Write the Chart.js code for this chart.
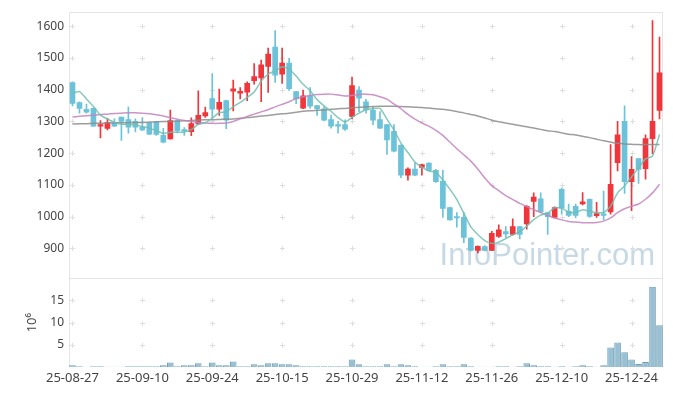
<!DOCTYPE html>
<html>
<head>
<meta charset="utf-8">
<script src="https://cdn.jsdelivr.net/npm/chart.js@4.4.1/dist/chart.umd.min.js"></script>
<style>
  html, body { margin: 0; padding: 0; background: #fff; }
  #wrap { width: 673px; height: 396px; }
</style>
</head>
<body>
<div id="wrap"><canvas id="stockChart"></canvas></div>
<script>
// 거래일 (yy-mm-dd)
const dates = [
  '25-08-27','25-08-28','25-08-29','25-09-01','25-09-02','25-09-03','25-09-04','25-09-05','25-09-08','25-09-09',
  '25-09-10','25-09-11','25-09-12','25-09-15','25-09-16','25-09-17','25-09-18','25-09-19','25-09-22','25-09-23',
  '25-09-24','25-09-25','25-09-26','25-09-29','25-09-30','25-10-01','25-10-02','25-10-10','25-10-13','25-10-14',
  '25-10-15','25-10-16','25-10-17','25-10-20','25-10-21','25-10-22','25-10-23','25-10-24','25-10-27','25-10-28',
  '25-10-29','25-10-30','25-10-31','25-11-03','25-11-04','25-11-05','25-11-06','25-11-07','25-11-10','25-11-11',
  '25-11-12','25-11-13','25-11-14','25-11-17','25-11-18','25-11-19','25-11-20','25-11-21','25-11-24','25-11-25',
  '25-11-26','25-11-27','25-11-28','25-12-01','25-12-02','25-12-03','25-12-04','25-12-05','25-12-08','25-12-09',
  '25-12-10','25-12-11','25-12-12','25-12-15','25-12-16','25-12-17','25-12-18','25-12-19','25-12-22','25-12-23',
  '25-12-24','25-12-26','25-12-29','25-12-30','26-01-02'
];

// 시가 / 고가 / 저가 / 종가
const opens = [
  1422,1359,1338,1341,1285,1278,1297,1314,1306,1300, 1283,1296,1299,1256,1245,1303,1274,1268,1292,1317,
  1372,1339,1366,1395,1389,1392,1428,1437,1473,1534, 1449,1484,1394,1342,1381,1350,1340,1306,1288,1290,
  1316,1399,1362,1335,1306,1290,1269,1225,1131,1150, 1155,1169,1146,1112,1029,998,998,933,894,906,
  894,938,953,944,969,977,1048,1056,1013,998, 1086,1017,1033,1040,1055,1003,1006,1015,1170,1300,
  1110,1183,1151,1246,1335
];
const highs = [
  1425,1362,1355,1342,1303,1310,1308,1314,1345,1308, 1312,1297,1300,1278,1336,1304,1281,1311,1396,1345,
  1451,1402,1367,1430,1407,1425,1482,1493,1531,1586, 1531,1499,1395,1399,1407,1351,1346,1320,1300,1305,
  1440,1410,1370,1347,1331,1291,1290,1226,1154,1170, 1166,1170,1149,1146,1030,1013,1013,934,908,909,
  954,974,969,993,970,1035,1075,1075,1014,1031, 1090,1040,1040,1076,1056,1045,1081,1227,1300,1349,
  1189,1184,1258,1618,1566
];
const lows = [
  1349,1326,1326,1284,1248,1273,1284,1240,1263,1267, 1271,1258,1256,1232,1244,1264,1256,1255,1290,1313,
  1310,1319,1277,1333,1371,1365,1417,1362,1391,1423, 1420,1398,1356,1340,1342,1319,1302,1279,1263,1272,
  1308,1331,1326,1290,1277,1196,1204,1123,1115,1129, 1131,1144,1108,998,989,967,918,892,886,892,
  893,935,935,942,930,961,1000,1013,944,996, 1008,1000,996,1037,998,998,990,1008,1144,1073,
  1019,1105,1118,1198,1308
];
const closes = [
  1357,1341,1329,1285,1290,1297,1285,1300,1282,1282, 1273,1260,1259,1235,1303,1271,1269,1293,1319,1328,
  1339,1360,1304,1403,1395,1420,1441,1478,1512,1446, 1484,1403,1371,1381,1348,1340,1304,1285,1285,1276,
  1413,1373,1336,1304,1279,1242,1206,1131,1150,1131, 1164,1146,1110,1026,990,996,935,894,907,894,
  948,959,946,969,944,1033,1062,1016,1000,1029, 1027,1004,1004,1047,1001,1010,1004,1102,1258,1110,
  1149,1149,1246,1300,1453
];

// 이동평균선
const ma5 = [
  1388,1394,1371,1347,1320,1308,1297,1291,1291,1289, 1284,1279,1271,1262,1266,1266,1267,1274,1291,1296,
  1310,1328,1330,1347,1360,1376,1393,1427,1449,1459, 1472,1465,1443,1417,1397,1369,1349,1332,1312,1298,
  1313,1326,1337,1340,1341,1307,1273,1232,1202,1172, 1156,1144,1140,1115,1087,1054,1011,968,944,925,
  916,920,931,943,953,970,991,1005,1011,1028, 1027,1015,1013,1022,1017,1013,1013,1033,1075,1097,
  1125,1154,1182,1191,1259
];
const ma20 = [
  1314,1316,1318,1320,1322,1323,1325,1326,1327,1327, 1326,1324,1321,1317,1312,1307,1303,1300,1297,1295,
  1294,1294,1295,1300,1308,1316,1323,1330,1337,1346, 1354,1362,1372,1378,1382,1385,1386,1386,1383,1380,
  1382,1385,1386,1384,1378,1370,1355,1340,1322,1307, 1295,1285,1272,1256,1235,1214,1195,1175,1150,1122,
  1098,1082,1066,1054,1042,1032,1022,1013,1004,996, 990,985,983,981,981,982,986,996,1013,1025,
  1033,1040,1055,1075,1102
];
const ma120 = [
  1292,1293,1293,1294,1294,1295,1295,1296,1296,1297, 1297,1298,1299,1300,1300,1301,1302,1303,1304,1305,
  1305,1306,1307,1308,1310,1312,1314,1317,1319,1322, 1324,1326,1329,1332,1334,1335,1336,1338,1340,1341,
  1343,1345,1346,1347,1348,1348,1348,1347,1346,1345, 1344,1342,1340,1338,1335,1331,1327,1322,1317,1311,
  1304,1299,1295,1291,1287,1283,1279,1275,1271,1268, 1264,1260,1257,1253,1249,1244,1239,1235,1231,1229,
  1228,1227,1227,1227,1227
];

// 거래량 (백만 주)
const volumes = [
  0.37,0.15,0.03,0.15,0.15,0.03,0.03,0.03,0.15,0.15, 0.15,0.15,0.15,0.37,1.04,0.15,0.37,0.37,0.82,0.15,
  1.04,0.37,0.37,1.26,0.15,0.15,0.6,0.37,0.82,0.82, 0.6,0.6,0.37,0.15,0.15,0.15,0.15,0.15,0.15,0.15,
  1.71,0.6,0.15,0.15,0.15,0.6,0.15,0.6,0.37,0.15, 0.03,0.03,0.15,0.6,0.15,0.15,0.6,0.15,0.03,0.03,
  0.03,0.15,0.15,0.03,0.15,0.82,0.37,0.15,0.15,0.03, 0.15,0.03,0.15,0.37,0.15,0.03,0.37,4.39,5.5,3.35,
  1.71,0.67,1.12,18.1,9.4
];

const priceTicks = [900, 1000, 1100, 1200, 1300, 1400, 1500, 1600];
const volumeTicks = [5, 10, 15];

const UP = '#f0363b';
const DOWN = '#6cc2d9';
const candleColors = closes.map((c, i) => c >= opens[i] ? UP : DOWN);

// 배경 장식: 테두리, 격자 십자표시, 워터마크
const decorPlugin = {
  id: 'decor',
  beforeDatasetsDraw(chart) {
    const { ctx, chartArea: a, scales } = chart;
    const x = scales.x, y = scales.y, yv = scales.yv;
    ctx.save();

    ctx.font = '31px "Liberation Sans", Arial, sans-serif';
    ctx.fillStyle = 'rgba(160,192,210,0.6)';
    ctx.textAlign = 'right';
    ctx.textBaseline = 'alphabetic';
    ctx.fillText('InfoPointer.com', a.right - 8, y.bottom - 13);

    ctx.strokeStyle = '#dedede';
    ctx.lineWidth = 1;
    const xs = [];
    dates.forEach((d, i) => { if (i % 10 === 0) xs.push(Math.round(x.getPixelForValue(i)) + 0.5); });
    const ys = [];
    y.ticks.forEach(t => ys.push(Math.round(y.getPixelForValue(t.value)) + 0.5));
    yv.ticks.forEach(t => ys.push(Math.round(yv.getPixelForValue(t.value)) + 0.5));
    ctx.beginPath();
    xs.forEach(px => ys.forEach(py => {
      ctx.moveTo(px - 2.5, py); ctx.lineTo(px + 2.5, py);
      ctx.moveTo(px, py - 2.5); ctx.lineTo(px, py + 2.5);
    }));
    ctx.stroke();

    ctx.strokeStyle = '#e4e4e4';
    ctx.beginPath();
    const L = Math.round(a.left) + 0.5, R = Math.round(a.right) - 0.5;
    const T = Math.round(a.top) + 0.5, S = Math.round(y.bottom) + 0.5;
    ctx.moveTo(L, a.bottom); ctx.lineTo(L, T); ctx.lineTo(R, T); ctx.lineTo(R, a.bottom);
    ctx.moveTo(L, S); ctx.lineTo(R, S);
    ctx.stroke();
    ctx.restore();
  }
};

const tickFont = { family: '"Noto Sans", sans-serif', size: 12 };

new Chart(document.getElementById('stockChart'), {
  data: {
    labels: dates,
    datasets: [
      { type: 'line', label: 'MA5', data: ma5, yAxisID: 'y', borderColor: 'rgba(110,190,175,0.85)',
        borderWidth: 1.5, pointRadius: 0, tension: 0.2, order: 0 },
      { type: 'line', label: 'MA20', data: ma20, yAxisID: 'y', borderColor: 'rgba(195,130,190,0.85)',
        borderWidth: 1.5, pointRadius: 0, tension: 0.2, order: 0 },
      { type: 'line', label: 'MA120', data: ma120, yAxisID: 'y', borderColor: 'rgba(140,140,140,0.85)',
        borderWidth: 1.5, pointRadius: 0, tension: 0.2, order: 0 },
      { type: 'bar', label: 'body', data: opens.map((o, i) => [o, closes[i]]), yAxisID: 'y',
        backgroundColor: candleColors, barThickness: 5, minBarLength: 1.5, grouped: false, order: 1 },
      { type: 'bar', label: 'wick', data: lows.map((l, i) => [l, highs[i]]), yAxisID: 'y',
        backgroundColor: candleColors, barThickness: 1, grouped: false, order: 2 },
      { type: 'bar', label: 'volume', data: volumes, yAxisID: 'yv',
        backgroundColor: 'rgba(135,180,202,0.85)', borderColor: '#6e9fb6', borderWidth: 1,
        barPercentage: 0.95, categoryPercentage: 1, grouped: false, order: 3 }
    ]
  },
  options: {
    responsive: true,
    maintainAspectRatio: false,
    animation: false,
    layout: { padding: { top: 10, right: 10, left: 0, bottom: 0 } },
    plugins: { legend: { display: false }, tooltip: { enabled: false } },
    scales: {
      x: {
        type: 'category',
        offset: true,
        grid: { display: false, drawTicks: false },
        border: { display: false },
        ticks: {
          autoSkip: false, maxRotation: 0, padding: 3,
          color: '#444', font: { family: '"Noto Sans", sans-serif', size: 13 },
          callback: (v, i) => i % 10 === 0 ? dates[i] : ''
        },
        afterFit: s => { s.height = 29; }
      },
      // 아래 칸(거래량)을 먼저 선언해야 위 칸이 가격 차트가 됨
      yv: {
        position: 'left', stack: 'panes', stackWeight: 1,
        min: 0, max: 20,
        grid: { display: false, drawTicks: false },
        border: { display: false },
        ticks: { color: '#444', font: tickFont, padding: 5, callback: v => String(v) },
        afterBuildTicks: s => { s.ticks = volumeTicks.map(v => ({ value: v })); },
        title: { display: true, text: '10⁶', color: '#444', font: { family: '"Noto Sans", sans-serif', size: 13 },
          padding: { top: 24, bottom: 0 } },
        afterFit: s => { s.width = 69; }
      },
      y: {
        position: 'left', stack: 'panes', stackWeight: 3,
        min: 806, max: 1644,
        grid: { display: false, drawTicks: false },
        border: { display: false },
        ticks: { color: '#444', font: tickFont, padding: 5, callback: v => String(v) },
        afterBuildTicks: s => { s.ticks = priceTicks.map(v => ({ value: v })); },
        afterFit: s => { s.width = 69; }
      }
    }
  },
  plugins: [decorPlugin]
});
</script>
</body>
</html>
